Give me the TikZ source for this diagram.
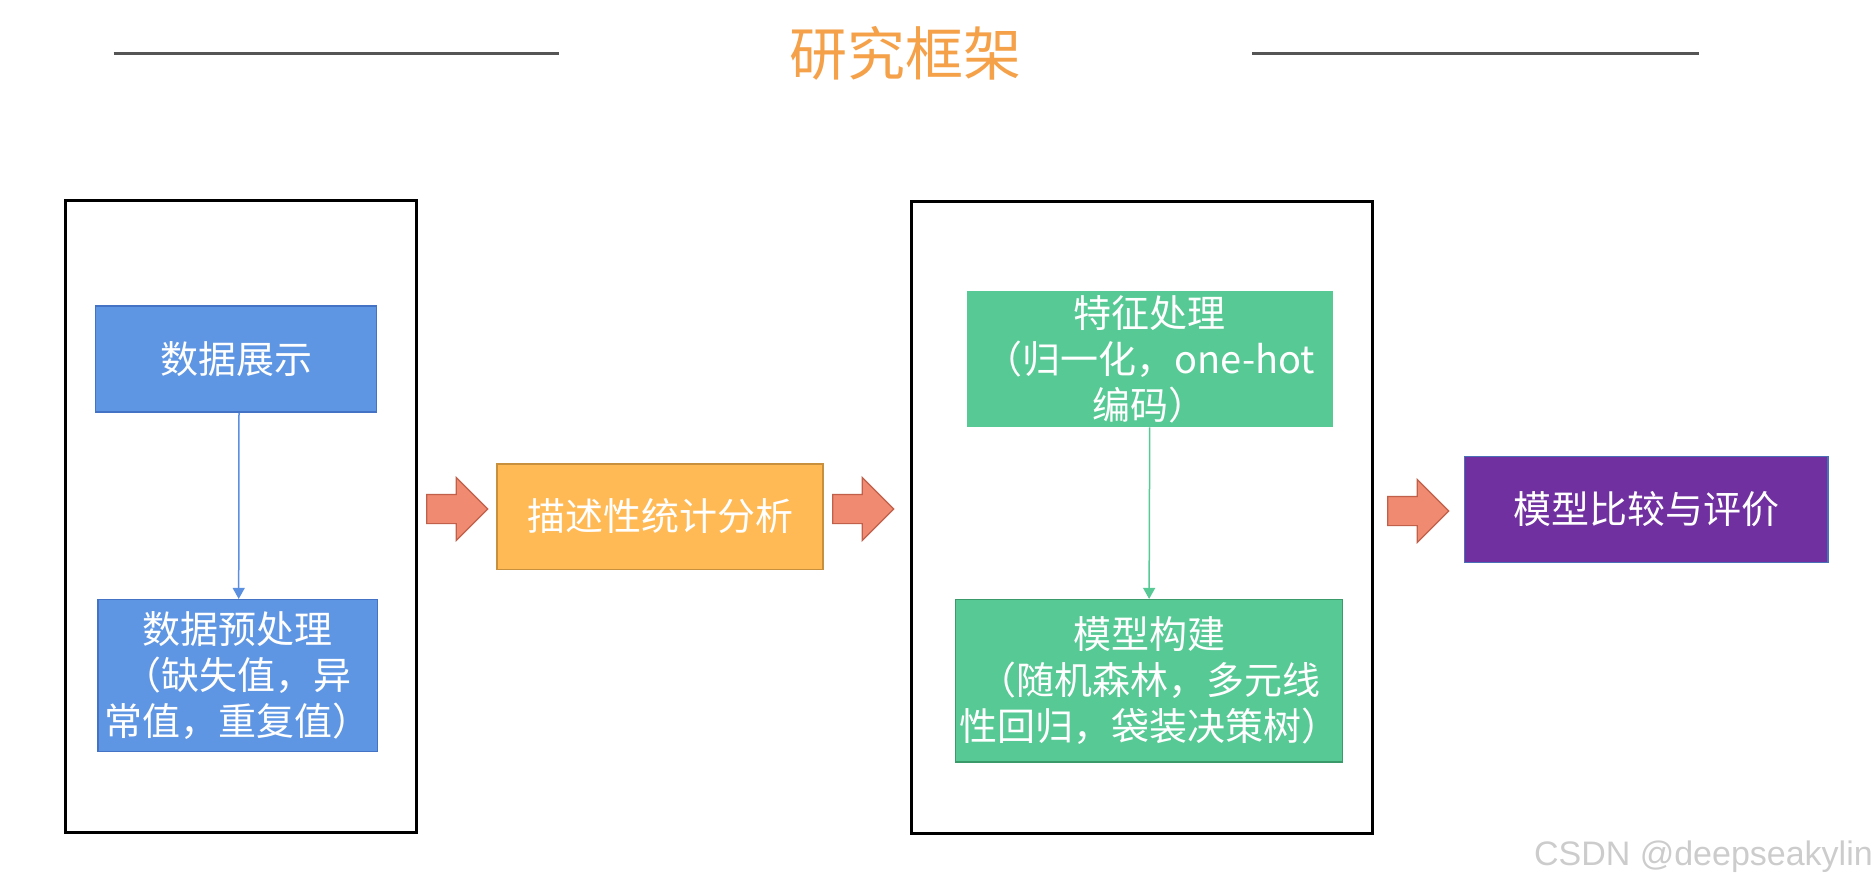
\documentclass[tikz,border=0pt]{standalone}
\usepackage{fontspec}
\setmainfont{Noto Sans CJK SC}
\newfontfamily\wmfont{Liberation Sans}
\usetikzlibrary{arrows.meta,shapes.arrows}
\definecolor{titleorange}{HTML}{F4A14A}
\definecolor{rulegray}{HTML}{555555}
\definecolor{bluefill}{HTML}{5F96E3}
\definecolor{blueline}{HTML}{4472C4}
\definecolor{orangefill}{HTML}{FFBA55}
\definecolor{orangeline}{HTML}{C8903C}
\definecolor{greenfill}{HTML}{56C995}
\definecolor{greenline}{HTML}{3A9A6A}
\definecolor{purplefill}{HTML}{7030A0}
\definecolor{purpleline}{HTML}{4A70B8}
\definecolor{salmonfill}{HTML}{F08A70}
\definecolor{salmonline}{HTML}{C0604A}
\definecolor{bluearrow}{HTML}{5B8FE0}
\tikzset{
  frame/.style={draw=black, line width=3pt, fill=none, inner sep=0pt},
  boxtext/.style={text=white, inner sep=0pt, align=center, font=\fontsize{38}{46}\selectfont},
  bluebox/.style={boxtext, fill=bluefill, draw=blueline, line width=1.5pt},
  orangebox/.style={boxtext, fill=orangefill, draw=orangeline, line width=1.5pt},
  greenbox/.style={boxtext, fill=greenfill, draw=greenfill, line width=1.5pt},
  greenboxb/.style={boxtext, fill=greenfill, draw=greenline, line width=1.5pt},
  purplebox/.style={boxtext, fill=purplefill, draw=purpleline, line width=1.5pt},
  bigarrow/.style={single arrow, fill=salmonfill, draw=salmonline, line width=1.2pt,
    inner xsep=0pt, inner ysep=14pt, minimum height=61pt,
    single arrow head extend=17pt, single arrow tip angle=90},
  bluelink/.style={draw=bluearrow, line width=1.5pt, -{Triangle[width=12pt,length=11pt]}},
  greenlink/.style={draw=greenfill, line width=1.5pt, -{Triangle[width=12pt,length=11pt]}},
  titlerule/.style={draw=rulegray, line width=2.8pt}
}
\begin{document}
\begin{tikzpicture}[x=1pt,y=-1pt]
\useasboundingbox (0,0) rectangle (1873,889);
% title
\node[text=titleorange, font=\fontsize{58}{64}\selectfont, inner sep=0pt] (title) at (905,53) {研究框架};
\coordinate (l1a) at (113.5,53.8);
\coordinate (l1b) at (559,53.8);
\coordinate (l2a) at (1252,53.8);
\coordinate (l2b) at (1699,53.8);
\draw[titlerule] (l1a) -- (l1b);
\draw[titlerule] (l2a) -- (l2b);
% left frame
\node[frame, minimum width=351.2pt, minimum height=631.9pt] (frameA) at (241.3,516.6) {};
\node[bluebox, minimum width=280.7pt, minimum height=106.3pt] (show) at (236,359) {数据展示};
\node[bluebox, minimum width=279.6pt, minimum height=151.7pt] (prep) at (237.7,675.5)
  {数据预处理\\（缺失值，异\\常值，重复值）};
\draw[bluelink] ([xshift=3pt]show.south) -- ([xshift=1pt]prep.north);
% middle
\node[bigarrow] (ar1) at (450,509) {};
\node[orangebox, minimum width=326.4pt, minimum height=105.5pt] (desc) at (660,516.5) {描述性统计分析};
\node[bigarrow] (ar2) at (856,509) {};
% right frame
\node[frame, minimum width=461.1pt, minimum height=631.9pt] (frameB) at (1142,517.9) {};
\node[greenbox, minimum width=364.3pt, minimum height=135pt] (feat) at (1149.7,359)
  {特征处理\\（归一化，one-hot\\编码）};
\node[greenboxb, minimum width=387pt, minimum height=162.5pt] (model) at (1149.1,680.9)
  {模型构建\\（随机森林，多元线\\性回归，袋装决策树）};
\draw[greenlink] (feat.south) -- (model.north);
% final
\node[bigarrow] (ar3) at (1411,511) {};
\node[purplebox, minimum width=363.8pt, minimum height=106pt] (eval) at (1646.3,509.5) {模型比较与评价};
% watermark
\node[anchor=east, text=gray!40, font=\wmfont\fontsize{34}{40}\selectfont, inner sep=0pt] (wm) at (1873,857) {CSDN @deepseakylin};
\end{tikzpicture}
\end{document}
